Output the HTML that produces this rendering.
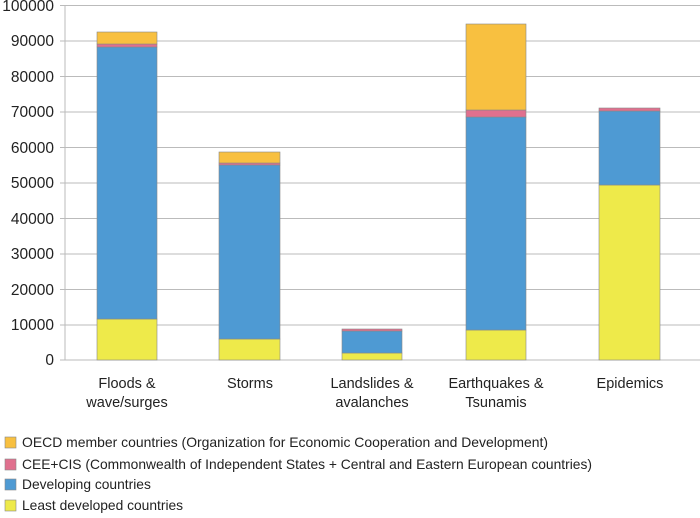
<!DOCTYPE html>
<html><head><style>
body{margin:0;background:#fff;}
</style></head><body>
<svg width="700" height="513" xmlns="http://www.w3.org/2000/svg" font-family="Liberation Sans, Arial, sans-serif">
<g stroke="#bbb" stroke-width="1">
<line x1="60" y1="5.5" x2="700" y2="5.5"/>
<line x1="60" y1="41" x2="700" y2="41"/>
<line x1="60" y1="76.5" x2="700" y2="76.5"/>
<line x1="60" y1="112" x2="700" y2="112"/>
<line x1="60" y1="147.5" x2="700" y2="147.5"/>
<line x1="60" y1="183" x2="700" y2="183"/>
<line x1="60" y1="218.5" x2="700" y2="218.5"/>
<line x1="60" y1="254" x2="700" y2="254"/>
<line x1="60" y1="289.5" x2="700" y2="289.5"/>
<line x1="60" y1="325" x2="700" y2="325"/>
<line x1="60" y1="360" x2="700" y2="360"/>
<line x1="65" y1="5" x2="65" y2="360"/>
</g>
<g font-size="15.5" fill="#222" text-anchor="end">
<text x="54" y="11">100000</text>
<text x="54" y="46">90000</text>
<text x="54" y="82">80000</text>
<text x="54" y="117">70000</text>
<text x="54" y="153">60000</text>
<text x="54" y="188">50000</text>
<text x="54" y="224">40000</text>
<text x="54" y="259">30000</text>
<text x="54" y="295">20000</text>
<text x="54" y="330">10000</text>
<text x="54" y="365">0</text>
</g>
<g stroke="#888" stroke-width="0.6">
<rect x="97" y="319" width="60" height="41" fill="#eeea4a"/>
<rect x="97" y="47" width="60" height="272" fill="#4e9ad3"/>
<rect x="97" y="44" width="60" height="3" fill="#e0708e"/>
<rect x="97" y="32" width="60" height="12" fill="#f8c040"/>

<rect x="219" y="339" width="61" height="21" fill="#eeea4a"/>
<rect x="219" y="165" width="61" height="174" fill="#4e9ad3"/>
<rect x="219" y="163" width="61" height="2" fill="#e0708e"/>
<rect x="219" y="152" width="61" height="11" fill="#f8c040"/>

<rect x="342" y="353" width="60" height="7" fill="#eeea4a"/>
<rect x="342" y="331" width="60" height="22" fill="#4e9ad3"/>
<rect x="342" y="329" width="60" height="2" fill="#e0708e"/>

<rect x="466" y="330" width="60" height="30" fill="#eeea4a"/>
<rect x="466" y="117" width="60" height="213" fill="#4e9ad3"/>
<rect x="466" y="110" width="60" height="7" fill="#e0708e"/>
<rect x="466" y="24" width="60" height="86" fill="#f8c040"/>

<rect x="599" y="185" width="61" height="175" fill="#eeea4a"/>
<rect x="599" y="111" width="61" height="74" fill="#4e9ad3"/>
<rect x="599" y="108" width="61" height="3" fill="#e0708e"/>
</g>
<g font-size="14.5" fill="#222" text-anchor="middle">
<text x="127" y="388">Floods &amp;</text><text x="127" y="407">wave/surges</text>
<text x="250" y="388">Storms</text>
<text x="372" y="388">Landslides &amp;</text><text x="372" y="407">avalanches</text>
<text x="496" y="388">Earthquakes &amp;</text><text x="496" y="407">Tsunamis</text>
<text x="630" y="388">Epidemics</text>
</g>
<g stroke="#888" stroke-width="0.6">
<rect x="5" y="437" width="11" height="11" fill="#f8c040"/>
<rect x="5" y="459" width="11" height="11" fill="#e0708e"/>
<rect x="5" y="479" width="11" height="11" fill="#4e9ad3"/>
<rect x="5" y="500" width="11" height="11" fill="#eeea4a"/>
</g>
<g font-size="13.8" fill="#222">
<text x="22" y="447" textLength="526" lengthAdjust="spacingAndGlyphs">OECD member countries (Organization for Economic Cooperation and Development)</text>
<text x="22" y="469" textLength="570" lengthAdjust="spacingAndGlyphs">CEE+CIS (Commonwealth of Independent States + Central and Eastern European countries)</text>
<text x="22" y="489">Developing countries</text>
<text x="22" y="510">Least developed countries</text>
</g>
</svg>
</body></html>
